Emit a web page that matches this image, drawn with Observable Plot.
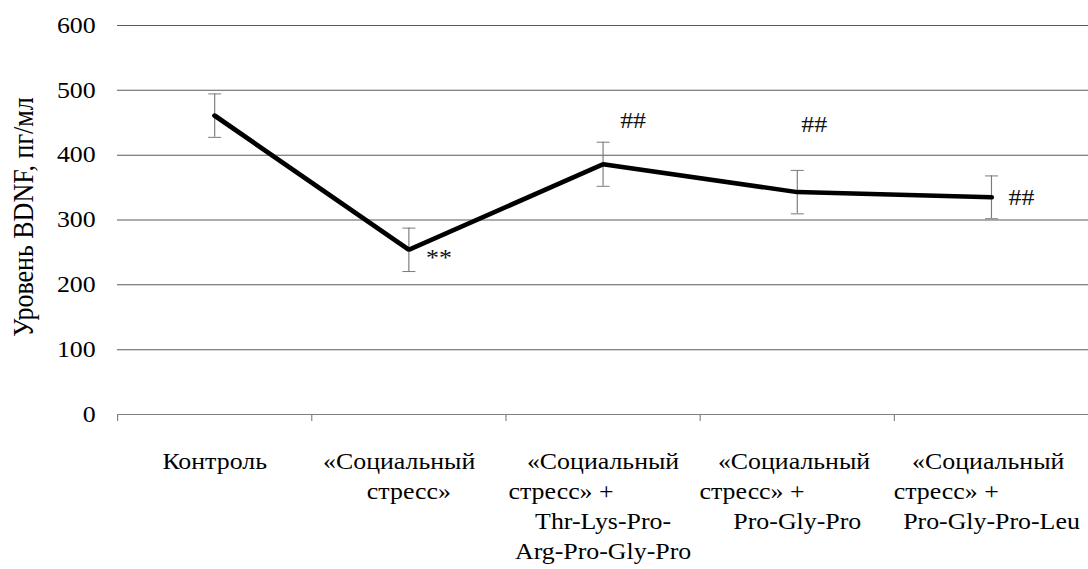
<!DOCTYPE html>
<html><head><meta charset="utf-8">
<script src="https://cdn.jsdelivr.net/npm/d3@7"></script>
<script src="https://cdn.jsdelivr.net/npm/@observablehq/plot@0.6"></script>
<style>body{margin:0;background:#fff} svg text{font-family:"Liberation Serif",serif !important}</style>
</head><body><div id="chart"></div>
<script>
// ---- data ----
const categories = [
  "Контроль",
  "«Социальный стресс»",
  "«Социальный стресс» + Thr-Lys-Pro-Arg-Pro-Gly-Pro",
  "«Социальный стресс» + Pro-Gly-Pro",
  "«Социальный стресс» + Pro-Gly-Pro-Leu"
];
const pad = n => "\u00a0".repeat(n);
const tickLabels = [
  "Контроль",
  "«Социальный" + pad(3) + "\nстресс»",
  "«Социальный\nстресс» +" + pad(13) + "\nThr-Lys-Pro-\nArg-Pro-Gly-Pro",
  "«Социальный" + pad(1) + "\nстресс» +" + pad(14) + "\nPro-Gly-Pro",
  "«Социальный" + pad(1) + "\nстресс» +" + pad(14) + "\nPro-Gly-Pro-Leu"
];
const values = [461, 254, 386, 343, 335];
const errors = [33.5, 33.5, 34, 33.5, 33];
const notes = ["", "**", "##", "##", "##"];
const yTicks = [0, 100, 200, 300, 400, 500, 600];
const yLabel = "Уровень BDNF, пг/мл";

// ---- layout ----
const S = 1.15;              // horizontal stretch of the picture
const W = 1088 / S, H = 569;
const FONT = "'Liberation Serif', serif";
const FS = 22.5;

const rows = categories.map((c, i) => ({
  i, pos: i + 0.5, cat: c, label: tickLabels[i],
  value: values[i], err: errors[i], note: notes[i]
}));

const cap = {draw(ctx) { const w = 6.5 / S; ctx.moveTo(-w, 0); ctx.lineTo(w, 0); }};

const noteAt = (k, dx, dy) => Plot.text(rows.filter(d => d.i === k), {
  x: "pos", y: "value", text: "note", dx: dx / S, dy, fontSize: FS, fontFamily: FONT, fill: "#111"
});

const svg = Plot.plot({
  width: W, height: H,
  marginLeft: 117 / S, marginRight: 0, marginTop: 25, marginBottom: 155,
  style: {fontFamily: FONT, fontSize: FS + "px", background: "#fff", color: "#000"},
  x: {type: "linear", domain: [0, categories.length]},
  y: {domain: [0, 600]},
  marks: [
    Plot.ruleY(yTicks.filter(t => t > 0), {stroke: "#5a5a5a", strokeWidth: 1}),
    Plot.ruleY([0], {stroke: "#808080", strokeWidth: 1.2}),
    Plot.axisX({ticks: d3.range(categories.length + 1), tickSize: 7, tickFormat: () => "", label: null, stroke: "#808080"}),
    Plot.axisY({ticks: yTicks, tickSize: 0, tickPadding: 19, label: null, fontSize: FS, fontFamily: FONT}),
    Plot.text([yLabel], {frameAnchor: "left", textAnchor: "middle", lineAnchor: "middle", rotate: -90, dx: -(117 - 23) / S, dy: -3, fontSize: 26, fontFamily: FONT}),
    Plot.text(rows, {x: "pos", frameAnchor: "bottom", text: "label", textAnchor: "middle", lineAnchor: "top", dy: 33, lineHeight: 1.33, fontSize: FS, fontFamily: FONT}),
    Plot.ruleX(rows, {x: "pos", y1: d => d.value - d.err, y2: d => d.value + d.err, stroke: "#7a7a7a", strokeWidth: 1}),
    Plot.dot(rows, {x: "pos", y: d => d.value + d.err, symbol: cap, stroke: "#7a7a7a", fill: "none", strokeWidth: 1}),
    Plot.dot(rows, {x: "pos", y: d => d.value - d.err, symbol: cap, stroke: "#7a7a7a", fill: "none", strokeWidth: 1}),
    Plot.line(rows, {x: "pos", y: "value", stroke: "#000", strokeWidth: 4.5, strokeLinejoin: "miter", strokeLinecap: "round"}),
    noteAt(1, 30, 8),
    noteAt(2, 30, -43),
    noteAt(3, 17, -67),
    noteAt(4, 30, 0)
  ]
});
svg.setAttribute("preserveAspectRatio", "none");
svg.setAttribute("width", 1088);
svg.setAttribute("height", H);
svg.style.width = "1088px";
svg.style.height = H + "px";
svg.style.maxWidth = "none";
document.getElementById("chart").appendChild(svg);
</script>
</body></html>
